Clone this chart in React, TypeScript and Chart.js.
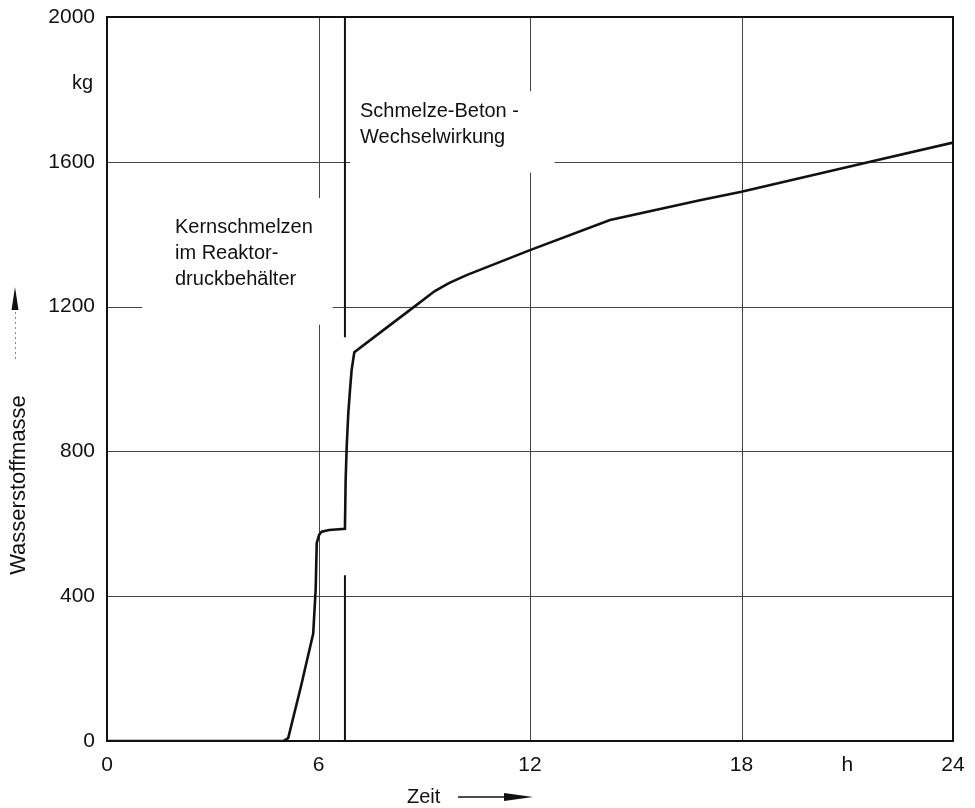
import { useEffect, useRef } from "react";
import { Chart, registerables } from "chart.js";

Chart.register(...registerables);

// Hydrogen mass curve (time in h, mass in kg)
const timeH = [0, 5.0, 5.14, 5.5, 5.85, 5.92, 5.95, 6.02, 6.09, 6.3, 6.75, 6.77, 6.8, 6.845, 6.894, 6.94, 7.016, 7.84, 8.72, 9.3, 9.7, 10.2, 12, 14.27, 16.82, 18, 21.65, 24];
const massKg = [0, 0, 8, 150, 297, 420, 547, 570, 578, 583, 586, 721, 813, 905, 970, 1025, 1074, 1135, 1200, 1243, 1265, 1287, 1356, 1439, 1494, 1517, 1600, 1653];

// Phase marker line at 6.75 h (drawn in two pieces)
const markerTime = [6.75, 6.75];
const markerUpperKg = [2000, 1115];
const markerLowerKg = [458, 0];

// Axis ticks
const xTickValues = [0, 6, 12, 18, 21, 24];
const xTickLabels = ["0", "6", "12", "18", "h", "24"];
const yTickValues = [0, 400, 800, 1200, 1600, 2000];
const yTickLabels = ["0", "400", "800", "1200", "1600", "2000"];

// Text
const yTitle = "Wasserstoffmasse";
const xTitle = "Zeit";
const yUnit = "kg";
const leftNote = ["Kernschmelzen", "im Reaktor-", "druckbehälter"];
const rightNote = ["Schmelze-Beton -", "Wechselwirkung"];

const FONT = "'Liberation Sans', Arial, Helvetica, sans-serif";

const toPoints = (xs: number[], ys: number[]) => xs.map((x, i) => ({ x, y: ys[i] }));

const decorPlugin = {
  id: "decor",
  beforeDatasetsDraw(chart: any) {
    const { ctx } = chart;
    const xs = chart.scales.x;
    const ys = chart.scales.y;
    ctx.save();
    ctx.strokeStyle = "#444";
    ctx.lineWidth = 1;
    const hSeg = (kg: number, a: number, b: number) => {
      const y = Math.round(ys.getPixelForValue(kg)) + 0.5;
      ctx.beginPath();
      ctx.moveTo(xs.getPixelForValue(a), y);
      ctx.lineTo(xs.getPixelForValue(b), y);
      ctx.stroke();
    };
    const vSeg = (h: number, a: number, b: number) => {
      const x = Math.round(xs.getPixelForValue(h)) + 0.5;
      ctx.beginPath();
      ctx.moveTo(x, ys.getPixelForValue(a));
      ctx.lineTo(x, ys.getPixelForValue(b));
      ctx.stroke();
    };
    hSeg(400, 0, 24);
    hSeg(800, 0, 24);
    hSeg(1200, 0, 1.0);
    hSeg(1200, 6.4, 24);
    hSeg(1600, 0, 6.9);
    hSeg(1600, 12.7, 24);
    vSeg(6, 2000, 1500);
    vSeg(6, 1150, 0);
    vSeg(12, 2000, 1795);
    vSeg(12, 1570, 0);
    vSeg(18, 2000, 0);
    ctx.restore();
  },
  afterDraw(chart: any) {
    const { ctx, chartArea } = chart;
    ctx.save();
    // frame
    ctx.strokeStyle = "#111";
    ctx.lineWidth = 2;
    ctx.strokeRect(chartArea.left, chartArea.top, chartArea.right - chartArea.left, chartArea.bottom - chartArea.top);

    ctx.fillStyle = "#111";
    ctx.textBaseline = "alphabetic";
    // unit
    ctx.font = `20px ${FONT}`;
    ctx.textAlign = "right";
    ctx.fillText(yUnit, chartArea.left - 14, 89);

    // annotations
    ctx.textAlign = "left";
    ctx.font = `20px ${FONT}`;
    leftNote.forEach((t, i) => ctx.fillText(t, 175, 233 + i * 26));
    rightNote.forEach((t, i) => ctx.fillText(t, 360, 117 + i * 26));

    // x title + arrow
    ctx.font = `20px ${FONT}`;
    ctx.fillText(xTitle, 407, 803);
    ctx.strokeStyle = "#111";
    ctx.lineWidth = 1.5;
    ctx.beginPath();
    ctx.moveTo(458, 797);
    ctx.lineTo(508, 797);
    ctx.stroke();
    ctx.beginPath();
    ctx.moveTo(504, 793);
    ctx.lineTo(533, 797);
    ctx.lineTo(504, 801);
    ctx.closePath();
    ctx.fill();

    // y title + arrow
    ctx.save();
    ctx.translate(25, 485);
    ctx.rotate(-Math.PI / 2);
    ctx.textAlign = "center";
    ctx.font = `22px ${FONT}`;
    ctx.fillText(yTitle, 0, 0);
    ctx.restore();
    ctx.beginPath();
    ctx.moveTo(15, 287);
    ctx.lineTo(11.5, 310);
    ctx.lineTo(18.5, 310);
    ctx.closePath();
    ctx.fill();
    ctx.strokeStyle = "#888";
    ctx.lineWidth = 1;
    ctx.setLineDash([2, 3]);
    ctx.beginPath();
    ctx.moveTo(15.5, 312);
    ctx.lineTo(15.5, 362);
    ctx.stroke();
    ctx.setLineDash([]);
    ctx.restore();
  },
};

export default function App() {
  const ref = useRef<HTMLCanvasElement | null>(null);
  useEffect(() => {
    if (!ref.current) return;
    const chart = new Chart(ref.current, {
      type: "line",
      data: {
        datasets: [
          {
            data: toPoints(timeH, massKg),
            borderColor: "#111",
            borderWidth: 2.6,
            pointRadius: 0,
            tension: 0,
          },
          {
            data: toPoints(markerTime, markerUpperKg),
            borderColor: "#111",
            borderWidth: 2,
            pointRadius: 0,
          },
          {
            data: toPoints(markerTime, markerLowerKg),
            borderColor: "#111",
            borderWidth: 2,
            pointRadius: 0,
          },
        ],
      },
      options: {
        responsive: false,
        animation: false,
        devicePixelRatio: 1,
        layout: { padding: { top: 17, right: 22, left: 0, bottom: 0 } },
        plugins: { legend: { display: false }, tooltip: { enabled: false } },
        scales: {
          x: {
            type: "linear",
            min: 0,
            max: 24,
            afterBuildTicks: (s: any) => {
              s.ticks = xTickValues.map((v) => ({ value: v }));
            },
            afterFit: (s: any) => {
              s.height = 67;
              s.paddingLeft = 0;
              s.paddingRight = 0;
            },
            grid: { display: false, drawTicks: false },
            border: { display: false },
            ticks: {
              padding: 12,
              color: "#111",
              maxRotation: 0,
              autoSkip: false,
              font: { family: FONT, size: 21 },
              callback: (v: any) => {
                const i = xTickValues.indexOf(Number(v));
                return i >= 0 ? xTickLabels[i] : "";
              },
            },
          },
          y: {
            type: "linear",
            min: 0,
            max: 2000,
            afterBuildTicks: (s: any) => {
              s.ticks = yTickValues.map((v) => ({ value: v }));
            },
            afterFit: (s: any) => {
              s.width = 107;
              s.paddingTop = 0;
              s.paddingBottom = 0;
            },
            grid: { display: false, drawTicks: false },
            border: { display: false },
            ticks: {
              padding: 12,
              color: "#111",
              autoSkip: false,
              font: { family: FONT, size: 21 },
              callback: (v: any) => {
                const i = yTickValues.indexOf(Number(v));
                return i >= 0 ? yTickLabels[i] : "";
              },
            },
          },
        },
      },
      plugins: [decorPlugin],
    } as any);
    return () => chart.destroy();
  }, []);
  return (
    <div style={{ position: "fixed", left: 0, top: 0, width: 975, height: 808, background: "#fff" }}>
      <canvas ref={ref} width={975} height={808} style={{ display: "block" }} />
    </div>
  );
}
